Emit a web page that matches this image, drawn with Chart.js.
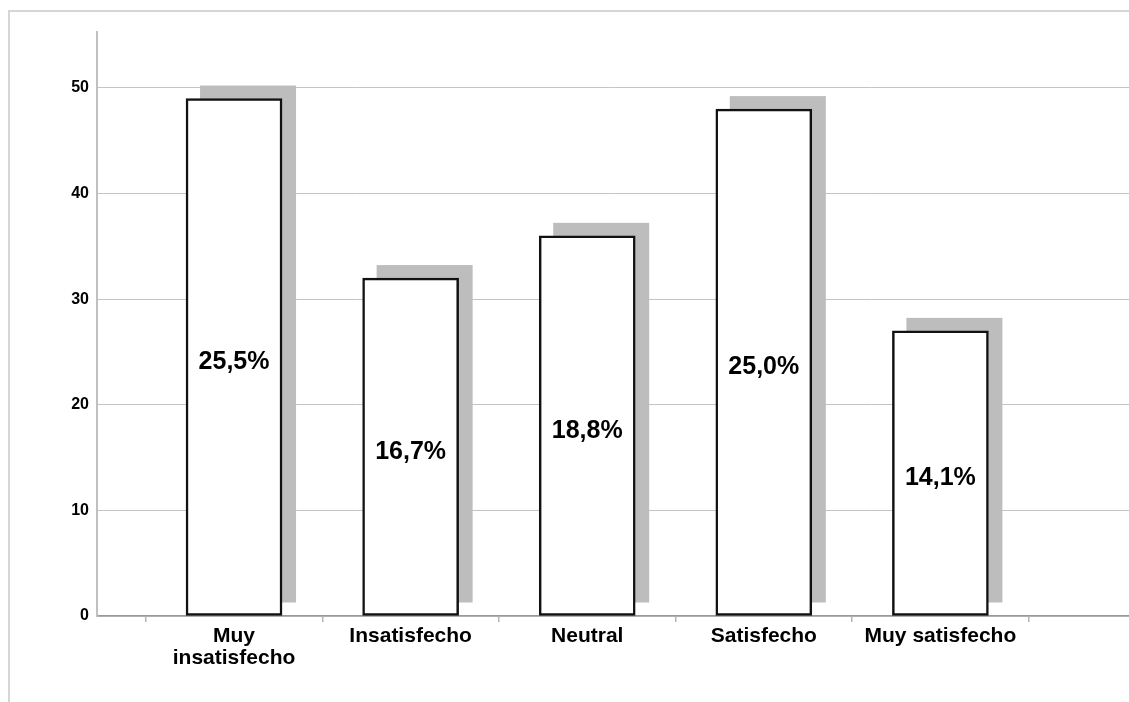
<!DOCTYPE html>
<html lang="es">
<head>
<meta charset="utf-8">
<title>Satisfacción</title>
<script src="https://cdn.jsdelivr.net/npm/chart.js@4/dist/chart.umd.min.js"></script>
<style>
  html, body { margin: 0; padding: 0; background: #fff; }
  #wrap { position: relative; width: 1129px; height: 702px; overflow: hidden; }
  #frame { position: absolute; left: 8px; top: 10px; right: -4px; bottom: -4px;
           border-top: 2px solid #d6d6d6; border-left: 2px solid #d6d6d6; }
  canvas { position: absolute; left: 0; top: 0; }
</style>
</head>
<body>
<div id="wrap">
  <div id="frame"></div>
  <canvas id="chart" width="1129" height="702"></canvas>
</div>
<script>
// Response categories and their counts
const categories = [
  ['Muy', 'insatisfecho'],
  'Insatisfecho',
  'Neutral',
  'Satisfecho',
  'Muy satisfecho'
];
const counts = [49, 32, 36, 48, 27];
const yTicks = [0, 10, 20, 30, 40, 50];

const total = counts.reduce((a, b) => a + b, 0);
const pctText = v => (v / total * 100).toFixed(1).replace('.', ',') + '%';

Chart.defaults.font.family = '"Liberation Sans", Arial, sans-serif';
Chart.defaults.color = '#000';

// Flat grey drop shadow behind each bar
const barShadow = {
  id: 'barShadow',
  beforeDatasetsDraw(chart) {
    const ctx = chart.ctx;
    const meta = chart.getDatasetMeta(0);
    ctx.save();
    ctx.fillStyle = '#bdbdbd';
    meta.data.forEach(bar => {
      const p = bar.getProps(['x', 'y', 'base', 'width'], true);
      ctx.fillRect(p.x - p.width / 2 + 14, p.y - 13, p.width, p.base - p.y);
    });
    ctx.restore();
  }
};

// Percentage label centred in each bar
const barPercent = {
  id: 'barPercent',
  afterDatasetsDraw(chart) {
    const ctx = chart.ctx;
    const meta = chart.getDatasetMeta(0);
    ctx.save();
    ctx.font = 'bold 25px "Liberation Sans", Arial, sans-serif';
    ctx.fillStyle = '#000';
    ctx.textAlign = 'center';
    ctx.textBaseline = 'middle';
    meta.data.forEach((bar, i) => {
      const p = bar.getProps(['x', 'y', 'base'], true);
      ctx.fillText(pctText(counts[i]), p.x, (p.y + p.base) / 2 + 5);
    });
    ctx.restore();
  }
};

const isCategoryTick = ctx => !!(ctx.tick && Number.isInteger(ctx.tick.value));

new Chart(document.getElementById('chart'), {
  type: 'bar',
  data: {
    datasets: [{
      data: counts.map((v, i) => ({ x: i, y: v })),
      backgroundColor: '#ffffff',
      borderColor: '#111111',
      borderWidth: 2.5,
      borderSkipped: false,
      barThickness: 96
    }]
  },
  options: {
    responsive: false,
    animation: false,
    events: [],
    layout: { padding: { top: 32, right: 0, bottom: 0, left: 0 } },
    plugins: { legend: { display: false }, tooltip: { enabled: false } },
    scales: {
      x: {
        type: 'linear',
        offset: false,
        min: -0.776,
        max: 5.068,
        afterBuildTicks(axis) {
          const t = [];
          for (let i = 0; i <= categories.length * 2; i++) t.push({ value: -0.5 + i * 0.5 });
          axis.ticks = t;
        },
        afterFit(axis) { axis.height = 86; },
        border: { display: true, color: '#9a9a9a', width: 1.5 },
        grid: {
          offset: false,
          drawOnChartArea: false,
          drawTicks: true,
          tickLength: 6,
          color: '#b5b5b5',
          tickColor: ctx => isCategoryTick(ctx) ? 'rgba(0,0,0,0)' : '#b5b5b5',
          lineWidth: 1.5
        },
        ticks: {
          autoSkip: false,
          maxRotation: 0,
          padding: 3,
          font: { size: 21, weight: 'bold', lineHeight: 1.05 },
          callback: v => Number.isInteger(v) ? categories[v] : ''
        }
      },
      y: {
        min: 0,
        max: 55.3,
        afterBuildTicks(axis) {
          axis.ticks = yTicks.map(v => ({ value: v }));
        },
        afterFit(axis) { axis.width = 97; },
        border: { display: true, color: '#c0c0c0', width: 2 },
        grid: { color: '#c4c4c4', lineWidth: 1, drawTicks: false },
        ticks: {
          padding: 8,
          font: { size: 16, weight: 'bold' }
        }
      }
    }
  },
  plugins: [barShadow, barPercent]
});
</script>
</body>
</html>
